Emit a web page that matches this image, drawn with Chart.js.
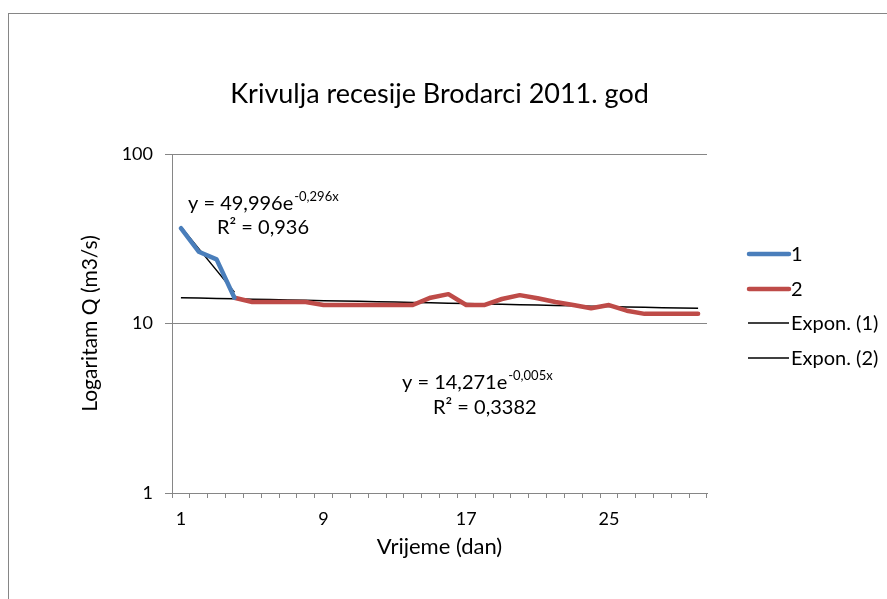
<!DOCTYPE html>
<html>
<head>
<meta charset="utf-8">
<script src="https://cdn.jsdelivr.net/npm/chart.js@4.4.1/dist/chart.umd.min.js"></script>
<style>
  html, body { margin: 0; padding: 0; background: #fff; }
</style>
</head>
<body>
<canvas id="chart" width="887" height="599"></canvas>
<script>
// data
const days = [1, 2, 3, 4, 5, 6, 7, 8, 9, 10, 11, 12, 13, 14, 15,
              16, 17, 18, 19, 20, 21, 22, 23, 24, 25, 26, 27, 28, 29, 30];
const series1 = [36.5, 26.5, 23.9, 14.2];
const series2 = [null, null, null, 14.2, 13.4, 13.4, 13.4, 13.4, 12.85, 12.85,
                 12.85, 12.85, 12.85, 12.85, 14.2, 14.9, 12.85, 12.85, 13.95, 14.7,
                 14.1, 13.4, 12.85, 12.3, 12.85, 11.9, 11.4, 11.4, 11.4, 11.4];
// trendline equations as printed on the chart
const trend1 = { a: 49.996, b: -0.296, first: 1, last: 4 };
const trend2 = { a: 14.271, b: -0.005, first: 1, last: 30 };
const yTicks = [1, 10, 100];
const xLabelEvery = 8;

const FONT = 'Lato';
const GRID = '#868686';
const TITLE = 'Krivulja recesije Brodarci 2011. god';

function trendValues(t) {
    return days.map(d => (d >= t.first && d <= t.last) ? t.a * Math.exp(t.b * d) : null);
}

const equations = [
    { main: 'y = 49,996e', sup: '-0,296x', r2: 'R² = 0,936', x: 188, y: 204, rx: 217, ry: 228 },
    { main: 'y = 14,271e', sup: '-0,005x', r2: 'R² = 0,3382', x: 402, y: 383, rx: 433, ry: 408 }
];

const extras = {
    id: 'extras',
    beforeDraw(chart) {
        const ctx = chart.ctx;
        ctx.save();
        ctx.fillStyle = '#fff';
        ctx.fillRect(0, 0, chart.width, chart.height);
        ctx.strokeStyle = GRID;
        ctx.lineWidth = 1;
        ctx.strokeRect(8.5, 13.5, chart.width + 20, chart.height + 20);
        ctx.restore();
    },
    afterDraw(chart) {
        const ctx = chart.ctx;
        const area = chart.chartArea;
        ctx.save();
        // title, centred over the plot area
        ctx.fillStyle = '#000';
        ctx.font = '27px ' + FONT;
        ctx.textAlign = 'center';
        ctx.textBaseline = 'middle';
        ctx.fillText(TITLE, (area.left + area.right) / 2, 94);
        // legend
        const lx = area.right + 40;
        const rows = [254, 289, 323, 358];
        ctx.textAlign = 'left';
        chart.data.datasets.forEach((ds, i) => {
            const y = rows[i];
            ctx.strokeStyle = ds.borderColor;
            ctx.lineWidth = ds.borderWidth;
            ctx.lineCap = ds.borderWidth > 2 ? 'round' : 'butt';
            ctx.beginPath();
            ctx.moveTo(lx + (ds.borderWidth > 2 ? 2 : 1), y);
            ctx.lineTo(lx + 42, y);
            ctx.stroke();
            ctx.fillStyle = '#000';
            ctx.font = '20px ' + FONT;
            ctx.fillText(ds.label, lx + 44, y + 1);
        });
        // trendline equations
        equations.forEach(e => {
            ctx.font = '20px ' + FONT;
            ctx.fillText(e.main, e.x, e.y);
            const w = ctx.measureText(e.main).width;
            ctx.font = '13px ' + FONT;
            ctx.fillText(e.sup, e.x + w + 1, e.y - 7);
            ctx.font = '20px ' + FONT;
            ctx.fillText(e.r2, e.rx, e.ry);
        });
        ctx.restore();
    }
};

new Chart(document.getElementById('chart'), {
    type: 'line',
    data: {
        labels: days,
        datasets: [{
            label: '1',
            data: series1,
            borderColor: '#4A7EBB',
            borderWidth: 4.5,
            borderCapStyle: 'round',
            borderJoinStyle: 'round'
        }, {
            label: '2',
            data: series2,
            borderColor: '#BE4B48',
            borderWidth: 4.5,
            borderCapStyle: 'round',
            borderJoinStyle: 'round'
        }, {
            label: 'Expon. (1)',
            data: trendValues(trend1),
            borderColor: '#000',
            borderWidth: 1.5
        }, {
            label: 'Expon. (2)',
            data: trendValues(trend2),
            borderColor: '#000',
            borderWidth: 1.5
        }]
    },
    options: {
        responsive: false,
        animation: false,
        elements: {
            point: { radius: 0 },
            line: { tension: 0 }
        },
        layout: { padding: { left: 74, right: 180, top: 154, bottom: 35 } },
        plugins: {
            legend: { display: false },
            tooltip: { enabled: false },
            title: { display: false }
        },
        scales: {
            x: {
                offset: true,
                grid: { offset: true, drawOnChartArea: false, tickLength: 5, color: GRID },
                border: { color: GRID },
                ticks: {
                    autoSkip: false,
                    maxRotation: 0,
                    padding: 10,
                    color: '#000',
                    font: { family: FONT, size: 18 },
                    callback: (v, i) => (i % xLabelEvery === 0 ? String(days[i]) : '')
                },
                title: {
                    display: true,
                    text: 'Vrijeme (dan)',
                    color: '#000',
                    font: { family: FONT, size: 22 }
                },
                afterFit: s => { s.height = 71; }
            },
            y: {
                type: 'logarithmic',
                min: 1,
                max: 100,
                afterBuildTicks: s => { s.ticks = yTicks.map(v => ({ value: v })); },
                grid: { color: GRID, tickLength: 7 },
                border: { color: GRID },
                ticks: {
                    padding: 12,
                    color: '#000',
                    font: { family: FONT, size: 18 },
                    callback: v => String(v)
                },
                title: {
                    display: true,
                    text: 'Logaritam Q (m3/s)',
                    color: '#000',
                    font: { family: FONT, size: 21 }
                },
                afterFit: s => { s.width = 98; }
            }
        }
    },
    plugins: [extras]
});
</script>
</body>
</html>
